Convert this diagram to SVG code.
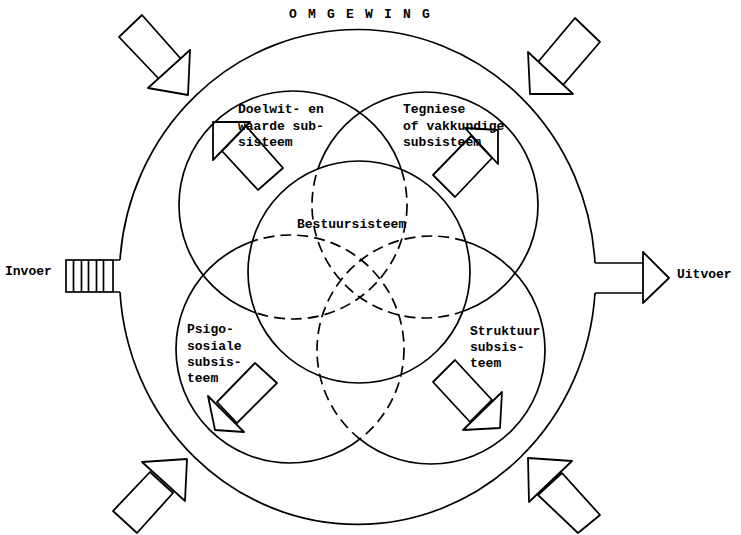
<svg xmlns="http://www.w3.org/2000/svg" width="741" height="535" viewBox="0 0 741 535">
<style>
.ln{fill:none;stroke:#000;stroke-width:1.7}
.ds{fill:none;stroke:#000;stroke-width:1.7;stroke-dasharray:11 6}
.ar{fill:#fff;stroke:#000;stroke-width:1.8;stroke-linejoin:round}
.ai{fill:none;stroke:#000;stroke-width:1.8;stroke-linejoin:round}
text{font-family:"Liberation Mono","Courier New",monospace;font-size:13px;font-weight:bold;fill:#000}
</style>
<defs>
<mask id="outC"><rect width="741" height="535" fill="#fff"/><circle cx="359" cy="272" r="111" fill="#000"/></mask>
<mask id="inC"><circle cx="359" cy="272" r="111" fill="#fff"/></mask>
<mask id="pSolid"><rect width="741" height="535" fill="#fff"/><circle cx="359" cy="272" r="111" fill="#000"/><circle cx="431" cy="350" r="114" fill="#000"/></mask>
<mask id="pDash"><circle cx="359" cy="272" r="111" fill="#fff"/><circle cx="431" cy="350" r="114" fill="#fff"/></mask>
<mask id="sSolid"><rect width="741" height="535" fill="#fff"/><circle cx="359" cy="272" r="111" fill="#000"/><circle cx="290" cy="349" r="114" fill="#000"/></mask>
<mask id="sDash"><circle cx="359" cy="272" r="111" fill="#fff"/><circle cx="290" cy="349" r="114" fill="#fff"/></mask>
</defs>
<rect width="741" height="535" fill="#fff"/>

<g id="omgewing">
<path class="ln" d="M120,260 A238,248 0 0 1 595,263"/>
<path class="ln" d="M595,293 A238,248 0 0 1 120,292"/>
<text x="289" y="18" style="letter-spacing:1.7px">O M G E W I N G</text>
</g>

<g id="bestuur">
<circle class="ln" cx="359" cy="272" r="111"/>
<text x="297" y="228">Bestuursisteem</text>
</g>

<g id="doelwit">
<circle class="ln" cx="293" cy="205" r="114" mask="url(#outC)"/>
<circle class="ds" cx="293" cy="205" r="114" mask="url(#inC)"/>
<text x="238" y="113">Doelwit- en</text>
<text x="238" y="130">waarde sub-</text>
<text x="238" y="146">sisteem</text>
<polygon class="ai" points="222,151 246,126 283,168 258,190"/>
<polygon class="ai" points="213,122 250,122 213,160"/>
</g>

<g id="tegniese">
<circle class="ln" cx="425" cy="205" r="113" mask="url(#outC)"/>
<circle class="ds" cx="425" cy="205" r="113" mask="url(#inC)"/>
<text x="403" y="113">Tegniese</text>
<text x="403" y="130">of vakkundige</text>
<text x="403" y="146">subsisteem</text>
<polygon class="ai" points="471,136 492,158 455,197 433,175"/>
<polygon class="ai" points="465,128 498,130 498,164"/>
</g>

<g id="psigo">
<circle class="ln" cx="290" cy="349" r="114" mask="url(#pSolid)"/>
<circle class="ds" cx="290" cy="349" r="114" mask="url(#pDash)"/>
<text x="187" y="333">Psigo-</text>
<text x="187" y="350">sosiale</text>
<text x="187" y="366">subsis-</text>
<text x="187" y="382">teem</text>
<polygon class="ai" points="255,363 277,383 237,423 217,402"/>
<polygon class="ai" points="208,396 244,432 215,430"/>
</g>

<g id="struktuur">
<circle class="ln" cx="431" cy="350" r="114" mask="url(#sSolid)"/>
<circle class="ds" cx="431" cy="350" r="114" mask="url(#sDash)"/>
<text x="470" y="335">Struktuur</text>
<text x="470" y="351">subsis-</text>
<text x="470" y="367">teem</text>
<polygon class="ai" points="455,360 433,382 470,422 492,400"/>
<polygon class="ai" points="502,392 463,430 500,428"/>
</g>

<g id="invoer">
<text x="5" y="275">Invoer</text>
<rect class="ln" x="66" y="260" width="47" height="32"/>
<path class="ln" d="M73.5,260V292M81.5,260V292M88.5,260V292M96.5,260V292M103.5,260V292M113,260H120M113,292H120"/>
</g>

<g id="uitvoer">
<path class="ln" d="M595,263H643M595,293H643"/>
<polygon class="ar" points="643,252 669,278 643,303"/>
<text x="677" y="278">Uitvoer</text>
</g>

<g id="arrow-tl">
<polygon class="ar" points="142,15 119,37 160,80 181,59"/>
<polygon class="ar" points="190,50 148,88 188,95"/>
</g>
<g id="arrow-tr">
<polygon class="ar" points="575,18 600,42 563,85 538,62"/>
<polygon class="ar" points="528,52 573,94 530,94"/>
</g>
<g id="arrow-bl">
<polygon class="ar" points="150,472 173,493 137,533 113,511"/>
<polygon class="ar" points="142,462 185,501 187,459"/>
</g>
<g id="arrow-br">
<polygon class="ar" points="562,473 538,495 578,533 600,515"/>
<polygon class="ar" points="572,461 529,502 528,458"/>
</g>
</svg>
